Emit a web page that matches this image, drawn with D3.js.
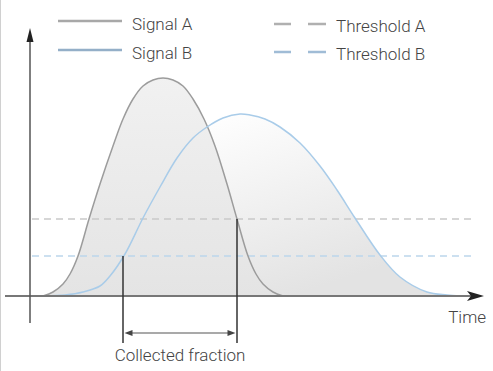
<!DOCTYPE html>
<html>
<head>
<meta charset="utf-8">
<script src="https://cdn.jsdelivr.net/npm/d3@7/dist/d3.min.js"></script>
<style>
  body { margin: 0; background: #fff; }
  svg text { font-family: Roboto, "Noto Sans", sans-serif; font-size: 17px; font-weight: 300; fill: #444; }
</style>
</head>
<body>
<div id="chart"></div>
<script>
// Signal A (gray peak)
var timeA = [1.3, 2.3, 3.3, 4.0, 4.8, 5.9, 7.0, 8.3, 9.3, 10.3, 11.3, 12.3, 13.3,
             14.3, 15.3, 16.3, 17.4, 18.5, 19.7, 20.7, 21.8, 22.6, 23.3, 24.3, 25.3];
var signalA = [0, 0.02, 0.06, 0.11, 0.20, 0.385, 0.56, 0.75, 0.885, 0.985, 1.05, 1.08, 1.09,
               1.08, 1.05, 0.985, 0.885, 0.75, 0.56, 0.385, 0.20, 0.11, 0.06, 0.02, 0];

// Signal B (blue, later and wider)
var timeB = [1.5, 3.5, 5.3, 7.0, 8.0, 9.5, 11.3, 13.0, 14.7, 16.3, 17.7, 19.3, 21.0, 22.0,
             23.5, 25.0, 27.0, 29.0, 30.7, 32.5, 35.0, 37.0, 39.7, 41.7, 43.0];
var signalB = [0, 0.005, 0.02, 0.05, 0.1, 0.21, 0.39, 0.545, 0.69, 0.79, 0.845, 0.89, 0.91, 0.905,
               0.885, 0.845, 0.765, 0.65, 0.53, 0.39, 0.205, 0.095, 0.02, 0.005, 0];

var thresholdA = 0.385;
var thresholdB = 0.2;

// collected fraction: B crosses threshold B (start) -> A crosses threshold A (end)
var fractionStart = 9.3;
var fractionEnd = 20.7;

var legendNames = ["Signal A", "Signal B", "Threshold A", "Threshold B"];

var svgWidth = 493;
var svgHeight = 371;

var svg = d3.select("#chart").append("svg")
  .attr("width", svgWidth)
  .attr("height", svgHeight);

var x = d3.scaleLinear().domain([0, 45]).range([30, 480]);
var y = d3.scaleLinear().domain([0, 1.2]).range([296, 56]);

var dataA = timeA.map((t, i) => ({t: t, v: signalA[i]}));
var dataB = timeB.map((t, i) => ({t: t, v: signalB[i]}));

// gradients for the filled areas
var defs = svg.append("defs");
var gradA = defs.append("linearGradient")
  .attr("id", "fillA")
  .attr("gradientUnits", "userSpaceOnUse")
  .attr("x1", 0).attr("y1", y(1.1))
  .attr("x2", 0).attr("y2", y(0));
gradA.append("stop").attr("offset", "0%").attr("stop-color", "#f1f1f1");
gradA.append("stop").attr("offset", "100%").attr("stop-color", "#e4e4e4");

var gradB = defs.append("linearGradient")
  .attr("id", "fillB")
  .attr("gradientUnits", "userSpaceOnUse")
  .attr("x1", x(20)).attr("y1", y(0.95))
  .attr("x2", x(26)).attr("y2", y(0));
gradB.append("stop").attr("offset", "0%").attr("stop-color", "#ffffff");
gradB.append("stop").attr("offset", "100%").attr("stop-color", "#e3e3e3");

// left frame line
svg.append("line")
  .attr("x1", 0.5).attr("x2", 0.5)
  .attr("y1", 0).attr("y2", svgHeight)
  .attr("stroke", "#d0d0d0");

var curve = d3.curveCatmullRom.alpha(0.5);

var area = d3.area()
  .x(d => x(d.t))
  .y0(y(0))
  .y1(d => y(d.v))
  .curve(curve);

var line = d3.line()
  .x(d => x(d.t))
  .y(d => y(d.v))
  .curve(curve);

svg.append("path").datum(dataB).attr("d", area).attr("fill", "url(#fillB)");
svg.append("path").datum(dataA).attr("d", area).attr("fill", "url(#fillA)");

// thresholds
svg.append("line")
  .attr("x1", x(0.2)).attr("x2", x(44.2))
  .attr("y1", y(thresholdA)).attr("y2", y(thresholdA))
  .attr("stroke", "#c9c9c9").attr("stroke-width", 1.5)
  .attr("stroke-dasharray", "7,5");
svg.append("line")
  .attr("x1", x(0.2)).attr("x2", x(44.2))
  .attr("y1", y(thresholdB)).attr("y2", y(thresholdB))
  .attr("stroke", "#bcd6ec").attr("stroke-width", 1.5)
  .attr("stroke-dasharray", "7,5");

// signal lines
svg.append("path").datum(dataA).attr("d", line)
  .attr("fill", "none").attr("stroke", "#9c9c9c").attr("stroke-width", 1.5);
svg.append("path").datum(dataB).attr("d", line)
  .attr("fill", "none").attr("stroke", "#a9cce9").attr("stroke-width", 1.5);

// x axis with arrow
svg.append("line")
  .attr("x1", 5).attr("x2", 474)
  .attr("y1", y(0)).attr("y2", y(0))
  .attr("stroke", "#777").attr("stroke-width", 2);
svg.append("path")
  .attr("d", `M${484},${y(0)} L${467},${y(0) - 5} L${471},${y(0)} L${467},${y(0) + 5} Z`)
  .attr("fill", "#222");
svg.append("text")
  .attr("x", 486).attr("y", 323)
  .attr("text-anchor", "end")
  .text("Time");

// y axis with arrow
svg.append("line")
  .attr("x1", x(0)).attr("x2", x(0))
  .attr("y1", 323).attr("y2", 34)
  .attr("stroke", "#555").attr("stroke-width", 1.5);
svg.append("path")
  .attr("d", `M${x(0)},28 L${x(0) - 3.5},42 L${x(0) + 3.5},42 Z`)
  .attr("fill", "#222");

// collected fraction markers
svg.append("line")
  .attr("x1", x(fractionStart)).attr("x2", x(fractionStart))
  .attr("y1", y(thresholdB)).attr("y2", 343)
  .attr("stroke", "#333").attr("stroke-width", 1.5);
svg.append("line")
  .attr("x1", x(fractionEnd)).attr("x2", x(fractionEnd))
  .attr("y1", y(thresholdA)).attr("y2", 343)
  .attr("stroke", "#333").attr("stroke-width", 1.5);

var ay = 333;
var ax1 = x(fractionStart) + 1.5;
var ax2 = x(fractionEnd) - 1.5;
svg.append("line")
  .attr("x1", ax1 + 4).attr("x2", ax2 - 4)
  .attr("y1", ay).attr("y2", ay)
  .attr("stroke", "#555").attr("stroke-width", 1.2);
svg.append("path")
  .attr("d", `M${ax1},${ay} L${ax1 + 8},${ay - 3} L${ax1 + 8},${ay + 3} Z M${ax2},${ay} L${ax2 - 8},${ay - 3} L${ax2 - 8},${ay + 3} Z`)
  .attr("fill", "#444");
svg.append("text")
  .attr("x", (x(fractionStart) + x(fractionEnd)) / 2).attr("y", 361)
  .attr("text-anchor", "middle")
  .text("Collected fraction");

// legend
var legend = svg.append("g");
legend.append("line").attr("x1", 58).attr("x2", 122).attr("y1", 21).attr("y2", 21)
  .attr("stroke", "#a8a8a8").attr("stroke-width", 2.5);
legend.append("text").attr("x", 132).attr("y", 30).text(legendNames[0]);
legend.append("line").attr("x1", 58).attr("x2", 122).attr("y1", 50).attr("y2", 50)
  .attr("stroke", "#94afc8").attr("stroke-width", 2.5);
legend.append("text").attr("x", 132).attr("y", 59).text(legendNames[1]);

legend.append("line").attr("x1", 274).attr("x2", 326).attr("y1", 24).attr("y2", 24)
  .attr("stroke", "#b0b0b0").attr("stroke-width", 2.5).attr("stroke-dasharray", "17,17,18");
legend.append("text").attr("x", 336).attr("y", 32).text(legendNames[2]);
legend.append("line").attr("x1", 274).attr("x2", 326).attr("y1", 52).attr("y2", 52)
  .attr("stroke", "#a0bcd6").attr("stroke-width", 2.5).attr("stroke-dasharray", "17,17,18");
legend.append("text").attr("x", 336).attr("y", 60).text(legendNames[3]);
</script>
</body>
</html>
